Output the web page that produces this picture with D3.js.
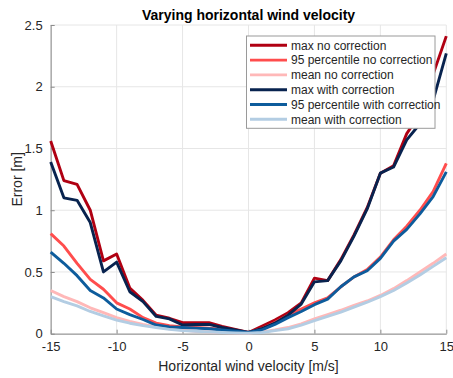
<!DOCTYPE html>
<html>
<head>
<meta charset="utf-8">
<script src="https://cdn.jsdelivr.net/npm/d3@7"></script>
<style>
  html, body { margin: 0; padding: 0; background: #fff; }
  svg { display: block; font-family: "Liberation Sans", Arial, sans-serif; }
</style>
</head>
<body>
<svg id="chart" width="453" height="378"></svg>
<script>
// Wind velocity samples [m/s]
const windSpeeds = d3.range(-15, 16);

// Error [m] per wind velocity
const maxNoCorrection = [1.56, 1.24, 1.21, 1.00, 0.59, 0.645, 0.37, 0.27, 0.15, 0.125, 0.09, 0.09, 0.09, 0.06, 0.035, 0.01,
  0.06, 0.11, 0.17, 0.25, 0.45, 0.43, 0.60, 0.80, 1.02, 1.30, 1.36, 1.62, 1.78, 2.10, 2.41];
const p95NoCorrection = [0.81, 0.71, 0.57, 0.44, 0.36, 0.25, 0.20, 0.13, 0.085, 0.065, 0.055, 0.05, 0.045, 0.035, 0.02, 0.01,
  0.04, 0.09, 0.15, 0.20, 0.25, 0.29, 0.38, 0.46, 0.52, 0.62, 0.76, 0.87, 1.00, 1.15, 1.38];
const meanNoCorrection = [0.35, 0.30, 0.26, 0.21, 0.17, 0.13, 0.10, 0.075, 0.055, 0.04, 0.03, 0.02, 0.015, 0.01, 0.007, 0.005,
  0.015, 0.03, 0.05, 0.08, 0.12, 0.155, 0.19, 0.23, 0.265, 0.31, 0.365, 0.43, 0.50, 0.57, 0.645];
const maxWithCorrection = [1.39, 1.10, 1.08, 0.90, 0.50, 0.58, 0.34, 0.26, 0.14, 0.12, 0.07, 0.075, 0.075, 0.05, 0.03, 0.01,
  0.04, 0.085, 0.15, 0.24, 0.42, 0.43, 0.59, 0.79, 1.01, 1.30, 1.35, 1.57, 1.70, 1.89, 2.27];
const p95WithCorrection = [0.66, 0.57, 0.47, 0.35, 0.29, 0.20, 0.155, 0.115, 0.07, 0.055, 0.05, 0.045, 0.04, 0.03, 0.02, 0.01,
  0.03, 0.075, 0.13, 0.18, 0.235, 0.28, 0.38, 0.46, 0.51, 0.61, 0.75, 0.845, 0.97, 1.11, 1.31];
const meanWithCorrection = [0.30, 0.26, 0.225, 0.18, 0.145, 0.11, 0.085, 0.065, 0.05, 0.035, 0.025, 0.02, 0.015, 0.01, 0.007, 0.005,
  0.01, 0.025, 0.04, 0.07, 0.105, 0.14, 0.175, 0.215, 0.255, 0.30, 0.35, 0.41, 0.475, 0.545, 0.615];

const seriesNames = ["max no correction", "95 percentile no correction", "mean no correction",
  "max with correction", "95 percentile with correction", "mean with correction"];
const seriesValues = [maxNoCorrection, p95NoCorrection, meanNoCorrection,
  maxWithCorrection, p95WithCorrection, meanWithCorrection];
const seriesColors = ["#b00012", "#ff4d4d", "#ffb8b8", "#08234f", "#0d5c9c", "#b3cde3"];

const xTicks = [-15, -10, -5, 0, 5, 10, 15];
const yTicks = [0, 0.5, 1, 1.5, 2, 2.5];

const svg = d3.select("#chart");
const plotLeft = 50.7, plotRight = 446.3, plotTop = 25, plotBottom = 333.7;

const x = d3.scaleLinear().domain([-15, 15]).range([plotLeft, plotRight]);
const y = d3.scaleLinear().domain([0, 2.5]).range([plotBottom, plotTop]);

// grid
const grid = svg.append("g");
grid.selectAll("line.gx").data(xTicks).join("line")
  .attr("x1", d => x(d)).attr("x2", d => x(d))
  .attr("y1", plotTop).attr("y2", plotBottom)
  .attr("stroke", "#e6e6e6").attr("stroke-width", 1);
grid.selectAll("line.gy").data(yTicks).join("line")
  .attr("x1", plotLeft).attr("x2", plotRight)
  .attr("y1", d => y(d)).attr("y2", d => y(d))
  .attr("stroke", "#e6e6e6").attr("stroke-width", 1);

// axes
const xAxis = d3.axisBottom(x).tickValues(xTicks).tickSizeInner(-4).tickSizeOuter(0).tickPadding(8)
  .tickFormat(d3.format("d"));
const yAxis = d3.axisLeft(y).tickValues(yTicks).tickSizeInner(-4).tickSizeOuter(0).tickPadding(8)
  .tickFormat(d => String(d));

const gx = svg.append("g").attr("transform", `translate(0,${plotBottom})`).call(xAxis);
const gy = svg.append("g").attr("transform", `translate(${plotLeft},0)`).call(yAxis);
[gx, gy].forEach(g => {
  g.select(".domain").attr("stroke", "#8c8c8c");
  g.selectAll(".tick line").attr("stroke", "#8c8c8c");
  g.selectAll(".tick text").attr("fill", "#262626").style("font-size", "13px")
    .style("font-family", "'Liberation Sans', Arial, sans-serif");
});
gx.selectAll(".tick text").text(d => d < 0 ? "-" + Math.abs(d) : String(d));

// lines
const line = d3.line().x((d, i) => x(windSpeeds[i])).y(d => y(d));
svg.append("g").selectAll("path").data(seriesValues).join("path")
  .attr("d", d => line(d))
  .attr("fill", "none")
  .attr("stroke", (d, i) => seriesColors[i])
  .attr("stroke-width", 2.9)
  .attr("stroke-linejoin", "round");

// title and labels
svg.append("text").attr("x", (plotLeft + plotRight) / 2).attr("y", 20)
  .attr("text-anchor", "middle").attr("font-weight", "bold")
  .style("font-size", "14px").attr("fill", "#000")
  .text("Varying horizontal wind velocity");
svg.append("text").attr("x", (plotLeft + plotRight) / 2).attr("y", 371)
  .attr("text-anchor", "middle").style("font-size", "14px").attr("fill", "#262626")
  .text("Horizontal wind velocity [m/s]");
svg.append("text").attr("transform", `translate(22,${(plotTop + plotBottom) / 2}) rotate(-90)`)
  .attr("text-anchor", "middle").style("font-size", "14px").attr("fill", "#262626")
  .text("Error [m]");

// legend
const lg = svg.append("g");
lg.append("rect").attr("x", 246.5).attr("y", 36).attr("width", 188.5).attr("height", 92.3)
  .attr("fill", "#fff").attr("stroke", "#9a9a9a").attr("stroke-width", 1);
const rowY = i => 45.3 + i * 14.8;
lg.selectAll("line").data(seriesNames).join("line")
  .attr("x1", 250).attr("x2", 287)
  .attr("y1", (d, i) => rowY(i)).attr("y2", (d, i) => rowY(i))
  .attr("stroke", (d, i) => seriesColors[i]).attr("stroke-width", 2.9);
lg.selectAll("text").data(seriesNames).join("text")
  .attr("x", 291).attr("y", (d, i) => rowY(i)).attr("dy", "0.35em")
  .style("font-size", "12px").attr("fill", "#262626")
  .text(d => d);
</script>
</body>
</html>
